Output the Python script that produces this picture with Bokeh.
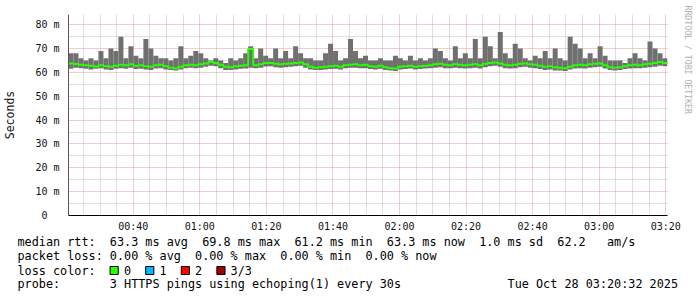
from bokeh.plotting import figure
from bokeh.models import Range1d, FixedTicker, Title
from bokeh.embed import file_html
from bokeh.resources import INLINE

# ---------------- data (ms) ----------------
start_min = 20 + 32 / 60.0      # 00:20:32
step_min = 1.5                  # minutes per column
rtt_hi = [68, 68, 66, 65, 66, 65, 69, 66, 70, 69,
          75, 66, 71, 67, 66, 74, 70, 67, 66, 66,
          65, 66, 71, 66, 67, 69, 68, 66, 65, 66,
          65, 64, 66, 65, 66, 68, 71, 66, 70, 67,
          66, 70, 66, 69, 66, 71, 68, 66, 66, 65,
          65, 68, 72, 69, 65, 66, 74, 69, 66, 67,
          65, 65, 66, 65, 65, 67, 66, 65, 67, 65,
          66, 65, 66, 70, 69, 66, 65, 71, 66, 68,
          66, 74, 66, 75, 71, 66, 77, 68, 66, 72,
          70, 66, 65, 67, 66, 69, 66, 70, 66, 65,
          75, 72, 70, 66, 68, 66, 71, 67, 65, 65,
          65, 64, 66, 68, 66, 65, 73, 70, 68, 66]
rtt_med = [63.8, 63.5, 63.2, 63.0, 62.8, 62.5, 63.0, 62.6, 62.4, 62.8,
           63.2, 63.0, 63.4, 62.8, 63.0, 62.6, 62.4, 63.0, 63.2, 62.6,
           62.0, 61.8, 62.4, 63.0, 63.2, 63.0, 63.4, 63.8, 64.4, 64.0,
           63.2, 62.4, 62.2, 62.6, 62.8, 63.0, 69.8, 63.0, 63.4, 64.0,
           64.0, 63.6, 63.4, 63.6, 63.8, 64.0, 64.2, 63.4, 62.4, 62.0,
           62.2, 62.4, 62.6, 62.8, 62.4, 63.0, 63.2, 63.4, 63.0, 63.2,
           62.6, 62.4, 62.8, 62.2, 61.8, 61.6, 62.4, 62.6, 62.8, 62.4,
           62.6, 62.8, 63.0, 63.4, 63.6, 63.2, 63.0, 63.4, 63.2, 63.0,
           63.2, 63.4, 63.0, 63.6, 64.0, 64.2, 63.8, 63.2, 63.0, 63.2,
           63.6, 63.8, 63.4, 63.2, 62.8, 62.4, 62.6, 62.2, 62.0, 61.8,
           62.4, 63.0, 63.2, 63.0, 63.4, 63.6, 63.8, 63.0, 62.2, 62.0,
           62.2, 62.6, 63.0, 63.2, 63.0, 63.4, 63.6, 64.0, 64.4, 64.0]
rtt_lo = [61.5, 62.0, 61.8, 61.5, 61.2, 61.5, 61.8, 61.2, 61.0, 61.5,
          61.8, 61.5, 62.0, 61.4, 61.5, 61.2, 61.0, 61.6, 61.8, 61.2,
          61.0, 60.8, 61.2, 61.8, 62.0, 61.8, 62.0, 62.4, 62.8, 62.6,
          61.8, 61.0, 61.0, 61.2, 61.5, 61.6, 62.0, 61.8, 62.0, 62.5,
          62.6, 62.2, 62.0, 62.2, 62.4, 62.6, 62.8, 62.0, 61.2, 61.0,
          61.0, 61.2, 61.4, 61.5, 61.2, 61.8, 62.0, 62.0, 61.8, 61.8,
          61.4, 61.2, 61.5, 61.0, 60.8, 60.6, 61.2, 61.4, 61.6, 61.2,
          61.4, 61.6, 61.8, 62.0, 62.2, 61.8, 61.8, 62.0, 61.8, 61.6,
          61.8, 62.0, 61.6, 62.2, 62.6, 62.8, 62.4, 61.8, 61.6, 61.8,
          62.2, 62.4, 62.0, 61.8, 61.4, 61.0, 61.2, 60.8, 60.8, 60.6,
          61.2, 61.6, 61.8, 61.6, 62.0, 62.2, 62.4, 61.6, 61.0, 60.8,
          61.0, 61.4, 61.6, 61.8, 61.8, 62.0, 62.2, 62.4, 62.8, 62.6]

y_ticks = [0, 10, 20, 30, 40, 50, 60, 70, 80]
y_labels = ["0\u00a0\u00a0", "10 m", "20 m", "30 m", "40 m", "50 m", "60 m", "70 m", "80 m"]
x_ticks = [40, 60, 80, 100, 120, 140, 160, 180, 200]
x_labels = ["00:40", "01:00", "01:20", "01:40", "02:00", "02:20", "02:40", "03:00", "03:20"]

loss_names = ["0", "1", "2", "3/3"]
loss_colors = ["#26ff00", "#00b8ff", "#ff0000", "#a10000"]

# (column, text) pieces of the legend lines (monospace columns)
rtt_parts = [(0, "median rtt:"), (13, "63.3 ms avg"), (26, "69.8 ms max"), (39, "61.2 ms min"),
             (52, "63.3 ms now"), (65, "1.0 ms sd"), (76, "62.2"), (83, "am/s")]
loss_parts = [(0, "packet loss:"), (13, "0.00 % avg"), (25, "0.00 % max"),
              (37, "0.00 % min"), (49, "0.00 % now")]
color_parts = [(0, "loss color:"), (15, loss_names[0]), (20, loss_names[1]),
               (25, loss_names[2]), (30, loss_names[3])]
probe_parts = [(0, "probe:"), (13, "3 HTTPS pings using echoping(1) every 30s"),
               (69, "Tue Oct 28 03:20:32 2025")]
watermark = "RRDTOOL / TOBI OETIKER"

MONO = "DejaVu Sans Mono"
FS_PX = 11.8
CHAR_W = 7.12
X0 = 16
EM_H = 1.164          # DejaVu ascent + descent, in em


def build_line(parts):
    s = ""
    for col, txt in parts:
        pad = max(col - len(s), 1 if s else 0)
        s += "\u00a0" * pad + txt
    return s


# ---------------- chart ----------------
n = len(rtt_med)
t_left = [start_min + step_min * i for i in range(n)]
t_right = [x + step_min for x in t_left]
end_min = start_min + step_min * n
Y_TOP = 84.3
FL, FR, FT, FB = 67, 667, 14, 215   # frame pixel box

p = figure(width=697, height=297, output_backend="svg", toolbar_location=None,
           x_range=Range1d(start_min, end_min), y_range=Range1d(0, Y_TOP),
           min_border_left=FL, min_border_right=697 - FR, min_border_top=FT,
           min_border_bottom=297 - FB)
p.outline_line_color = None
p.background_fill_color = "white"
p.border_fill_color = "white"

p.quad(left=t_left, right=t_right, bottom=rtt_lo, top=rtt_hi,
       fill_color="#707070", line_color=None)
p.step(x=t_left + [end_min], y=rtt_med + [rtt_med[-1]], mode="after",
       line_color=loss_colors[0], line_width=2)

p.xaxis.ticker = FixedTicker(ticks=x_ticks,
                             minor_ticks=[m for m in range(25, 201, 5) if m % 20 != 0])
p.yaxis.ticker = FixedTicker(ticks=y_ticks,
                             minor_ticks=[m for m in range(5, 85, 10)])
p.xaxis.major_label_overrides = {t: l for t, l in zip(x_ticks, x_labels)}
p.yaxis.major_label_overrides = {t: l for t, l in zip(y_ticks, y_labels)}

for ax in (p.xaxis[0], p.yaxis[0]):
    ax.major_tick_in = 0
    ax.major_tick_out = 0
    ax.minor_tick_in = 0
    ax.minor_tick_out = 0
    ax.major_label_text_font = MONO
    ax.major_label_text_font_size = "10px"
    ax.major_label_text_color = "#111111"
p.xaxis.axis_line_color = "black"
p.yaxis.axis_line_color = "#555555"
p.xaxis.major_label_standoff = 5
p.yaxis.major_label_standoff = 9
p.yaxis.axis_label = "Seconds"
p.yaxis.axis_label_text_font = MONO
p.yaxis.axis_label_text_font_size = "11.5px"
p.yaxis.axis_label_text_font_style = "normal"
p.yaxis.axis_label_text_color = "#111111"
p.yaxis.axis_label_standoff = 15

for g in (p.xgrid[0], p.ygrid[0]):
    g.grid_line_color = "#e39a9a"
    g.grid_line_dash = "1 1"
    g.grid_line_width = 1
    g.minor_grid_line_color = "#bdbdbd"
    g.minor_grid_line_dash = "1 1"
    g.minor_grid_line_width = 1


def row(text, height, x=X0, font_px=FS_PX, **kw):
    """A text row below the x axis; a row of height 0 shares the line of the next row."""
    standoff = height - 2 - EM_H * font_px
    p.add_layout(Title(text=text, align="left", vertical_align="middle", offset=x - FL,
                       standoff=standoff, text_font=MONO, text_font_size="%.1fpx" % font_px,
                       text_font_style="normal", text_color="black", **kw), "below")


row(build_line(rtt_parts), 14)          # centre ~241
row(build_line(loss_parts), 14)         # centre ~255
row("\u00a0", 7.5)                      # spacing
# loss colour line (all height 0 -> same line, centre ~269.5)
for (col, name), color in zip(color_parts[1:], loss_colors):
    row("\u00a0\u00a0", 0, x=X0 + (col - 2) * CHAR_W, font_px=6.8,
        background_fill_color=color, border_line_color="black", border_line_width=1)
row(build_line(color_parts), 0)
row(build_line(probe_parts), 27)        # centre ~283


# watermark on the right side (a spacer column first, then the text column)
def right_col(text, width, font_px, **kw):
    standoff = width - 2 - EM_H * font_px
    p.add_layout(Title(text=text, align="left", vertical_align="middle", offset=-9,
                       standoff=standoff, text_font=MONO, text_font_size="%.1fpx" % font_px,
                       text_font_style="normal", **kw), "right")


right_col("\u00a0", 16, 8.2, text_color="white")
right_col(watermark, 8, 8.2, text_color="#b0b0b0")

open("out.html", "w").write(file_html(p, INLINE))
